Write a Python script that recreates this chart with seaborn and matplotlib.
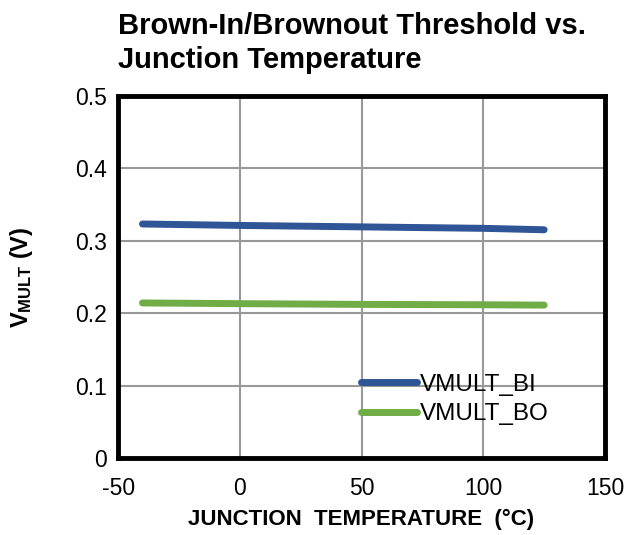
import matplotlib
matplotlib.use("Agg")
import matplotlib.pyplot as plt
import pandas as pd
import seaborn as sns

# Junction temperature (°C) and thresholds (V)
temperature = [-40, 0, 25, 50, 100, 125]
vmult_bi = [0.323, 0.321, 0.320, 0.319, 0.317, 0.315]
vmult_bo = [0.214, 0.213, 0.2125, 0.212, 0.2115, 0.211]

x_ticks = [-50, 0, 50, 100, 150]
y_ticks = [0, 0.1, 0.2, 0.3, 0.4, 0.5]

df = pd.DataFrame({
    "temp": temperature * 2,
    "value": vmult_bi + vmult_bo,
    "series": ["VMULT_BI"] * len(temperature) + ["VMULT_BO"] * len(temperature),
})

sns.set_style("white")
plt.rcParams["font.family"] = ["Liberation Sans", "DejaVu Sans"]
plt.rcParams["mathtext.fontset"] = "custom"
plt.rcParams["mathtext.bf"] = "Liberation Sans:bold"
plt.rcParams["mathtext.rm"] = "Liberation Sans"
plt.rcParams["text.color"] = "black"
plt.rcParams["axes.labelcolor"] = "black"
plt.rcParams["xtick.color"] = "black"
plt.rcParams["ytick.color"] = "black"

fig = plt.figure(figsize=(6.25, 5.35), dpi=100)
ax = fig.add_axes([0.189, 0.144, 0.779, 0.677])

sns.lineplot(
    data=df, x="temp", y="value", hue="series",
    palette={"VMULT_BI": "#2f5597", "VMULT_BO": "#70ad47"},
    linewidth=5, solid_capstyle="round", ax=ax,
)

ax.set_xlim(-50, 150)
ax.set_ylim(0, 0.5)
ax.set_xticks(x_ticks)
ax.set_yticks(y_ticks)
ax.set_xticklabels([str(t) for t in x_ticks])
ax.set_yticklabels([f"{t:g}" for t in y_ticks])
ax.tick_params(axis="both", labelsize=16.5, length=0)
ax.tick_params(axis="x", pad=14)
ax.tick_params(axis="y", pad=8)
ax.grid(True, color="#999999", linewidth=1.5)
ax.set_axisbelow(True)
for sp in ax.spines.values():
    sp.set_visible(True)
    sp.set_color("black")
    sp.set_linewidth(3.5)

ax.set_xlabel("JUNCTION  TEMPERATURE  (°C)", fontsize=16, fontweight="bold", labelpad=6)
ax.set_ylabel(r"$\mathbf{V_{MULT}}$ $\mathbf{(V)}$", fontsize=17)
ax.yaxis.set_label_coords(-0.17, 0.5)

fig.text(0.189, 0.978, "Brown-In/Brownout Threshold vs.\nJunction Temperature",
         ha="left", va="top", fontsize=21, fontweight="bold", linespacing=1.3)

leg = ax.legend(loc="lower right", bbox_to_anchor=(0.93, 0.03), frameon=False,
                fontsize=17.5, handlelength=2.3, handletextpad=0.15, labelspacing=0.3)
for line in leg.get_lines():
    line.set_linewidth(5)
    line.set_solid_capstyle("round")

fig.savefig("out.png", dpi=100)
